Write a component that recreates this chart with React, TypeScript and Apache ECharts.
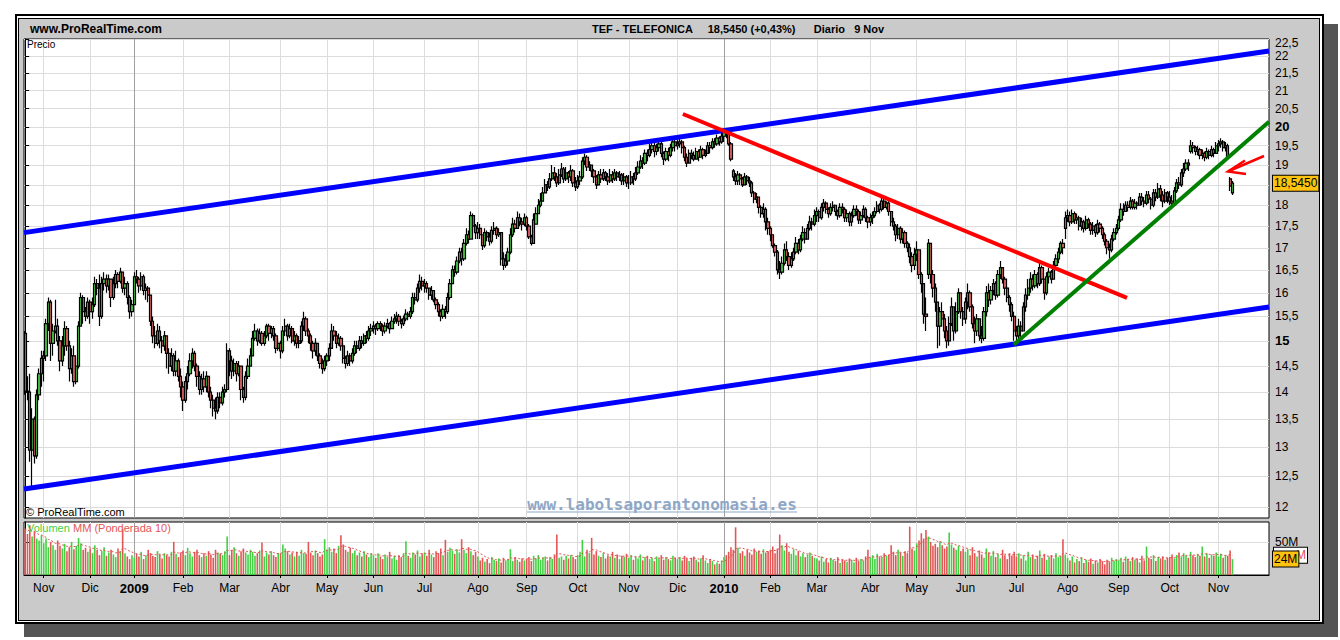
import React, { useEffect, useRef } from "react";
import * as echarts from "echarts";

// ---------- categories / ticks ----------
const monthLabels = ["Nov","Dic","2009","Feb","Mar","Abr","May","Jun","Jul","Ago","Sep","Oct","Nov","Dic","2010","Feb","Mar","Abr","May","Jun","Jul","Ago","Sep","Oct","Nov"];
// trading sessions per month: first = 22-31 Oct 2008, last = 1-9 Nov 2010
const monthSessions = [8,20,19,21,20,22,20,20,22,23,21,22,22,21,20,20,20,23,20,21,22,22,22,22,21,7];
const priceTicks = [12,12.5,13,13.5,14,14.5,15,15.5,16,16.5,17,17.5,18,18.5,19,19.5,20,20.5,21,21.5,22,22.5];
const hiddenPriceLabels = [18.5]; // covered by the last-price box
const topLabelAnchor = 22.39; // the 22,5 label sits just below the top edge, as in the original
const volumeTicks = [50];
const priceRange = [11.82, 22.51];
const volumeRange = [0, 80];
const totalSlots = 536.25;
const lastPrice = 18.545;

// ---------- daily prices (close / high / low) and volumes (M) ----------
const firstOpen = 15.15;
const gapOpens = [[220,17.55],[305,18.85],[389,16.4],[448,17.45],[502,19.35],[519,18.65],[520,18.3]];

const cOct08 = [14.02,14.0,12.95,13.5,12.85,13.95,14.35,14.65];
const hOct08 = [15.2,14.3,14.35,13.7,13.55,14.05,14.45,14.8];
const lOct08 = [13.95,13.85,12.75,12.28,12.72,12.8,13.85,14.1];
const vOct08 = [70,62,75,58,66,55,52,60];

const cNov08 = [14.7,15.35,15.8,14.95,15.2,15.3,15.0,14.6,14.9,15.25,14.9,14.45,14.7,14.2,14.5,15.3,15.9,15.6,15.5,15.8];
const hNov08 = [14.8,15.45,15.9,15.85,15.35,15.85,15.45,15.1,15.1,15.4,15.3,15.0,14.85,14.9,14.65,15.4,16.0,15.95,15.7,15.9];
const lNov08 = [14.2,14.6,15.2,14.6,14.7,15.15,14.9,14.4,14.5,14.7,14.8,14.2,14.35,14.1,14.15,14.45,15.3,15.35,15.4,15.45];
const vNov08 = [48,55,42,50,45,38,52,44,40,47,36,42,50,39,44,56,48,38,41,35];

const cDec08 = [15.6,15.75,16.2,16.1,15.5,16.2,16.3,16.15,16.3,15.9,16.2,16.4,16.25,16.45,16.1,16.2,15.9,15.6,15.75];
const hDec08 = [15.85,15.9,16.35,16.3,16.4,16.35,16.45,16.4,16.4,16.3,16.35,16.5,16.45,16.55,16.45,16.35,16.25,15.95,15.85];
const lDec08 = [15.35,15.45,15.7,15.95,15.3,15.45,16.05,16.0,16.05,15.7,15.85,16.1,16.1,16.2,16.0,15.95,15.75,15.45,15.5];
const vDec08 = [40,33,45,38,30,36,42,29,34,38,31,27,40,36,69,33,28,24,30];

const cJan09 = [16.35,16.3,16.15,16.35,16.05,16.1,15.95,15.4,15.1,14.95,15.2,15.0,14.9,15.1,14.75,14.5,14.7,14.4,14.6,14.3,14.1];
const hJan09 = [16.45,16.5,16.35,16.45,16.4,16.2,16.15,15.9,15.5,15.3,15.35,15.3,15.1,15.2,15.1,14.85,14.85,14.75,14.8,14.65,14.45];
const lJan09 = [16.15,16.2,16.0,16.05,15.95,15.85,15.8,15.3,14.95,14.85,14.9,14.85,14.75,14.8,14.45,14.35,14.4,14.3,14.3,14.2,13.9];
const vJan09 = [26,32,28,35,24,30,38,33,29,27,36,31,25,33,30,28,35,50,32,27,34];

const cFeb09 = [13.85,14.2,14.35,14.6,14.75,14.5,14.3,14.05,14.25,14.1,14.3,14.0,13.85,13.7,13.65,13.9,13.8,14.0,14.05,14.8];
const hFeb09 = [14.2,14.3,14.5,14.75,14.85,14.8,14.55,14.4,14.35,14.4,14.4,14.3,14.1,13.95,13.9,14.0,14.0,14.1,14.15,14.95];
const lFeb09 = [13.65,13.8,14.05,14.3,14.45,14.4,14.1,13.95,13.95,14.0,14.0,13.9,13.7,13.55,13.5,13.6,13.7,13.75,13.9,14.0];
const vFeb09 = [37,30,41,33,28,35,38,30,27,33,29,36,31,26,38,34,32,30,36,58];

const cMar09 = [14.6,14.4,14.55,14.35,14.5,14.05,13.9,14.3,14.5,14.7,15.05,15.2,15.0,15.15,14.95,15.1,15.3,15.15,15.25,15.1,14.85,14.95];
const hMar09 = [14.85,14.7,14.65,14.6,14.6,14.45,14.1,14.4,14.65,14.85,15.2,15.35,15.25,15.25,15.2,15.2,15.35,15.35,15.3,15.3,15.15,15.05];
const lMar09 = [14.3,14.25,14.3,14.2,14.3,13.85,13.8,13.85,14.25,14.5,14.7,15.0,14.9,14.95,14.9,14.9,15.05,15.0,15.05,15.0,14.75,14.8];
const vMar09 = [30,38,42,33,29,36,40,34,31,38,35,29,33,37,49,28,34,31,36,30,27,33];

const cApr09 = [14.8,15.2,15.3,15.1,15.25,15.0,15.1,14.95,15.0,15.3,15.45,15.2,15.1,14.95,14.8,14.95,14.7,14.55,14.45,14.6];
const hApr09 = [15.0,15.3,15.45,15.35,15.35,15.3,15.2,15.15,15.1,15.4,15.6,15.5,15.25,15.15,15.0,15.05,14.95,14.75,14.65,14.7];
const lApr09 = [14.65,14.75,15.1,15.0,15.05,14.95,14.9,14.85,14.85,14.95,15.2,15.1,14.95,14.8,14.65,14.7,14.6,14.45,14.35,14.4];
const vApr09 = [33,46,40,36,31,34,28,35,29,38,33,32,50,34,30,37,33,28,31,54];

const cMay09 = [14.7,14.85,15.2,15.1,14.95,15.05,14.9,14.65,14.55,14.7,14.6,14.75,14.9,14.85,15.0,14.95,15.1,15.05,15.2,15.25];
const hMay09 = [14.75,14.95,15.35,15.3,15.2,15.15,15.1,14.95,14.7,14.8,14.75,14.85,15.0,15.0,15.1,15.1,15.15,15.2,15.3,15.35];
const lMay09 = [14.5,14.6,14.85,15.0,14.85,14.9,14.8,14.55,14.45,14.5,14.5,14.55,14.7,14.75,14.8,14.85,14.9,14.95,15.0,15.1];
const vMay09 = [38,42,35,40,33,44,60,46,38,35,41,33,37,30,34,28,36,31,27,33];

const cJun09 = [15.3,15.25,15.35,15.3,15.2,15.3,15.35,15.25,15.4,15.45,15.5,15.4,15.35,15.45,15.55,15.5,15.6,15.9,15.85,16.1,16.25,16.15];
const hJun09 = [15.4,15.35,15.4,15.4,15.35,15.38,15.45,15.38,15.5,15.55,15.6,15.55,15.45,15.52,15.65,15.6,15.7,16.0,16.0,16.2,16.4,16.35];
const lJun09 = [15.15,15.12,15.2,15.2,15.1,15.15,15.25,15.15,15.25,15.35,15.35,15.3,15.25,15.3,15.4,15.42,15.45,15.55,15.75,15.8,16.0,16.05];
const vJun09 = [30,26,33,28,24,31,27,35,25,29,23,30,27,33,51,29,26,34,31,37,28,32];

const cJul09 = [16.2,16.1,15.95,16.05,15.85,15.75,15.6,15.5,15.65,15.6,15.9,16.2,16.5,16.45,16.7,16.9,16.75,17.1,17.3,17.2,17.75,17.5,17.35];
const hJul09 = [16.3,16.25,16.1,16.15,16.05,15.9,15.8,15.65,15.75,15.72,16.0,16.3,16.6,16.6,16.8,17.0,17.0,17.2,17.45,17.4,17.85,17.8,17.55];
const lJul09 = [16.0,16.0,15.85,15.85,15.8,15.65,15.5,15.4,15.45,15.45,15.55,15.85,16.2,16.35,16.4,16.65,16.6,16.7,17.05,17.1,17.2,17.4,17.2];
const vJul09 = [34,29,38,31,27,36,33,40,30,53,35,41,37,32,39,34,54,38,33,42,36,30,35];

const cAug09 = [17.45,17.3,17.05,17.35,17.25,17.15,17.4,17.45,17.3,17.35,16.75,16.6,16.7,16.9,17.3,17.55,17.45,17.7,17.6,17.55,17.7];
const hAug09 = [17.6,17.55,17.3,17.45,17.4,17.35,17.5,17.6,17.5,17.45,17.35,16.9,16.85,17.0,17.45,17.7,17.65,17.85,17.8,17.7,17.8];
const lAug09 = [17.2,17.2,16.95,17.0,17.15,17.05,17.1,17.3,17.2,17.25,16.6,16.5,16.55,16.6,16.85,17.25,17.35,17.45,17.5,17.4,17.5];
const vAug09 = [28,22,26,20,24,18,27,23,21,25,19,26,22,24,39,21,27,23,20,25,22];

const cSep09 = [17.5,17.25,17.1,17.65,17.8,18.0,18.1,18.3,18.5,18.45,18.65,18.8,18.7,18.55,18.75,18.9,18.65,18.8,18.7,18.85,18.55,18.45];
const hSep09 = [17.75,17.55,17.3,17.8,17.95,18.15,18.3,18.45,18.65,18.6,18.8,19.0,18.95,18.8,18.9,19.05,18.95,18.95,18.85,19.0,18.9,18.7];
const lSep09 = [17.4,17.2,17.05,17.55,17.6,17.8,17.95,18.1,18.3,18.35,18.4,18.6,18.6,18.45,18.5,18.7,18.55,18.6,18.55,18.6,18.45,18.35];
const vSep09 = [24,27,21,29,25,30,23,26,28,22,27,24,31,61,26,28,23,29,25,30,27,24];

const cOct09 = [18.6,18.7,19.1,19.2,18.95,19.0,18.85,18.7,18.5,18.75,18.65,18.8,18.7,18.6,18.75,18.65,18.8,18.7,18.75,18.6,18.7,18.55];
const hOct09 = [18.75,18.85,19.2,19.3,19.25,19.1,19.0,18.9,18.75,18.85,18.9,18.9,18.85,18.8,18.9,18.85,18.9,18.85,18.85,18.8,18.8,18.75];
const lOct09 = [18.4,18.5,18.65,19.0,18.85,18.85,18.7,18.55,18.4,18.5,18.55,18.6,18.6,18.5,18.55,18.55,18.6,18.6,18.6,18.5,18.5,18.45];
const vOct09 = [30,35,53,28,38,33,56,31,36,29,27,33,25,30,28,35,26,31,24,29,27,32];

const cNov09 = [18.55,18.7,18.65,18.8,18.95,19.1,19.05,19.3,19.25,19.4,19.5,19.35,19.45,19.55,19.3,19.15,19.35,19.25,19.45,19.6,19.5];
const hNov09 = [18.75,18.85,18.8,18.95,19.1,19.25,19.2,19.4,19.4,19.55,19.65,19.6,19.55,19.65,19.6,19.35,19.45,19.45,19.55,19.7,19.7];
const lNov09 = [18.4,18.5,18.5,18.6,18.75,18.9,18.9,19.0,19.1,19.2,19.3,19.2,19.25,19.35,19.2,19.0,19.1,19.1,19.2,19.35,19.35];
const vNov09 = [26,30,23,28,25,31,22,27,29,24,26,21,28,25,30,23,27,24,22,29,26];

const cDec09 = [19.55,19.6,19.45,19.2,19.05,19.3,19.25,19.15,19.35,19.2,19.4,19.25,19.3,19.5,19.45,19.6,19.55,19.7,19.6,19.75];
const hDec09 = [19.7,19.7,19.65,19.5,19.3,19.4,19.4,19.35,19.45,19.4,19.5,19.45,19.4,19.6,19.6,19.7,19.7,19.8,19.75,19.85];
const lDec09 = [19.4,19.45,19.3,19.1,18.95,19.05,19.15,19.1,19.15,19.1,19.2,19.15,19.2,19.3,19.3,19.4,19.45,19.5,19.5,19.55];
const vDec09 = [24,27,22,29,25,21,26,28,23,20,25,30,22,18,24,21,16,19,17,22];

const cJan10 = [19.85,19.8,19.55,19.15,18.7,18.6,18.75,18.65,18.5,18.7,18.6,18.55,18.3,18.15,18.2,17.95,17.8,17.9,17.6,17.45];
const hJan10 = [19.9,19.95,19.85,19.6,18.9,18.8,18.85,18.8,18.7,18.8,18.75,18.7,18.6,18.35,18.3,18.2,18.0,18.05,17.95,17.7];
const lJan10 = [19.6,19.7,19.5,19.1,18.6,18.5,18.5,18.5,18.45,18.5,18.5,18.45,18.2,18.05,18.05,17.8,17.7,17.7,17.4,17.3];
const vJan10 = [27,30,35,42,38,72,41,33,36,29,38,34,31,40,35,37,32,39,34,36];

const cFeb10 = [17.3,17.05,16.9,16.5,16.45,16.65,16.95,16.8,16.6,16.75,16.9,17.1,16.95,17.2,17.35,17.2,17.45,17.6,17.55,17.75];
const hFeb10 = [17.5,17.3,17.1,16.95,16.7,16.8,17.1,17.15,16.9,16.9,17.0,17.25,17.2,17.3,17.5,17.45,17.55,17.75,17.7,17.9];
const lFeb10 = [17.15,17.0,16.8,16.4,16.3,16.4,16.6,16.7,16.5,16.55,16.7,16.85,16.85,16.9,17.15,17.1,17.2,17.4,17.4,17.5];
const vFeb10 = [38,43,33,40,61,45,37,48,35,32,39,30,36,28,33,27,31,34,29,26];

const cMar10 = [17.85,17.7,17.95,18.05,17.9,17.8,17.95,18.0,17.85,17.75,17.95,17.9,17.7,17.8,17.6,17.75,17.9,17.85,17.65,17.75,17.9,17.7,17.6];
const hMar10 = [17.95,17.9,18.05,18.15,18.1,17.95,18.05,18.1,18.0,17.9,18.05,18.05,17.95,17.9,17.85,17.85,18.0,18.0,17.9,17.85,18.0,17.95,17.75];
const lMar10 = [17.6,17.6,17.65,17.85,17.8,17.7,17.75,17.85,17.75,17.65,17.7,17.8,17.6,17.6,17.5,17.5,17.7,17.75,17.55,17.55,17.7,17.6,17.45];
const vMar10 = [25,22,28,20,24,19,26,23,21,27,18,24,22,20,25,23,19,26,21,24,22,28,38];

const cApr10 = [17.7,17.75,17.85,18.0,17.9,18.1,17.95,18.05,17.85,17.6,17.5,17.3,17.45,17.2,17.35,17.1,17.0,16.8,16.6,16.85];
const hApr10 = [17.8,17.85,17.95,18.1,18.05,18.2,18.2,18.1,18.1,17.85,17.7,17.55,17.55,17.5,17.45,17.4,17.15,17.1,16.9,17.0];
const lApr10 = [17.5,17.55,17.7,17.8,17.8,17.85,17.9,17.9,17.75,17.5,17.4,17.15,17.2,17.1,17.1,17.0,16.9,16.65,16.45,16.5];
const vApr10 = [26,30,24,32,28,27,33,29,31,45,35,30,38,34,29,36,33,73,40,37];

const cMay10 = [16.95,16.4,16.2,15.55,15.5,17.1,16.4,16.1,15.8,15.3,15.6,15.45,15.2,15.0,15.35,15.7,15.2,15.6,16.0,15.6,15.45];
const hMay10 = [17.15,16.9,16.45,16.2,15.9,17.2,16.9,16.5,16.2,15.75,15.7,15.8,15.55,15.3,15.5,15.9,15.6,15.8,16.1,16.0,15.7];
const lMay10 = [16.7,16.3,16.0,15.35,15.2,16.3,16.2,15.9,15.6,14.85,14.9,15.3,15.05,14.85,14.9,15.3,15.0,15.15,15.55,15.45,15.3];
const vMay10 = [48,52,63,55,68,58,50,44,47,42,51,45,40,43,64,46,41,38,44,36,40];

const cJun10 = [15.8,16.0,15.7,15.35,15.2,15.45,15.1,15.05,15.6,16.0,15.85,16.05,16.2,15.95,16.4,16.55,16.3,16.1,15.9,15.75,15.5,15.2];
const hJun10 = [15.9,16.2,16.05,15.75,15.5,15.55,15.45,15.3,15.7,16.15,16.2,16.15,16.3,16.25,16.5,16.7,16.55,16.35,16.15,15.95,15.8,15.6];
const lJun10 = [15.35,15.65,15.6,15.25,14.95,15.1,15.0,14.95,15.0,15.5,15.7,15.75,15.95,15.85,15.9,16.3,16.2,15.95,15.8,15.6,15.4,15.0];
const vJun10 = [35,39,30,42,33,28,37,31,26,40,34,29,36,27,32,25,38,30,24,33,29,35];

const cJul10 = [15.1,15.3,15.2,15.7,15.95,16.1,16.3,16.15,16.4,16.2,16.55,16.3,16.0,16.35,16.45,16.3,16.6,16.75,16.9,17.1,17.0,17.7];
const hJul10 = [15.3,15.45,15.4,15.8,16.1,16.3,16.45,16.4,16.5,16.45,16.65,16.6,16.3,16.45,16.55,16.5,16.7,16.85,17.0,17.15,17.2,17.85];
const lJul10 = [14.95,15.0,15.05,15.2,15.6,15.85,16.0,16.05,16.1,16.1,16.15,16.2,15.85,15.95,16.2,16.2,16.3,16.55,16.65,16.85,16.85,17.2];
const vJul10 = [28,33,25,30,22,35,27,31,24,29,37,26,32,23,28,30,25,33,27,29,54,31];

const cAug10 = [17.75,17.6,17.8,17.65,17.7,17.5,17.6,17.45,17.65,17.55,17.4,17.5,17.35,17.55,17.45,17.3,17.15,17.0,16.95,17.2,17.35,17.45];
const hAug10 = [17.9,17.85,17.9,17.85,17.8,17.75,17.7,17.65,17.75,17.7,17.6,17.6,17.55,17.65,17.6,17.5,17.35,17.2,17.1,17.3,17.45,17.55];
const lAug10 = [17.6,17.5,17.55,17.55,17.55,17.4,17.4,17.35,17.4,17.45,17.3,17.3,17.25,17.3,17.35,17.2,17.05,16.85,16.75,16.9,17.15,17.3];
const vAug10 = [26,22,28,19,24,21,27,18,23,20,25,17,22,19,24,21,16,23,20,26,22,24];

const cSep10 = [17.65,17.9,17.85,18.0,17.95,18.1,17.95,18.05,18.0,18.2,18.1,18.05,18.25,18.15,18.0,18.3,18.2,18.4,18.25,18.1,18.3,18.2];
const hSep10 = [17.75,18.05,18.05,18.1,18.1,18.2,18.15,18.15,18.1,18.3,18.3,18.2,18.35,18.35,18.2,18.4,18.4,18.55,18.5,18.35,18.4,18.35];
const lSep10 = [17.4,17.6,17.75,17.85,17.85,17.9,17.9,17.9,17.9,18.0,18.0,17.95,18.0,18.05,17.9,17.95,18.1,18.15,18.1,17.95,18.05,18.05];
const vSep10 = [22,26,20,28,24,21,27,23,25,19,29,22,43,26,24,30,21,27,25,28,23,26];

const cOct10 = [18.1,18.05,18.35,18.55,18.5,18.8,18.9,19.05,19.0,19.5,19.45,19.35,19.4,19.25,19.3,19.2,19.35,19.25,19.4,19.3,19.5];
const hOct10 = [18.35,18.25,18.45,18.65,18.7,18.9,19.05,19.15,19.15,19.65,19.6,19.5,19.5,19.45,19.4,19.35,19.45,19.4,19.5,19.45,19.6];
const lOct10 = [18.0,17.95,18.1,18.3,18.4,18.45,18.7,18.85,18.85,19.3,19.3,19.25,19.25,19.15,19.15,19.1,19.15,19.15,19.2,19.2,19.3];
const vOct10 = [27,31,25,30,34,28,33,29,26,35,30,27,32,29,43,28,33,26,31,29,34];

const cNov10 = [19.55,19.6,19.45,19.5,19.2,18.47,18.545];
const hNov10 = [19.65,19.7,19.65,19.6,19.55,18.7,18.6];
const lNov10 = [19.35,19.45,19.35,19.35,19.15,18.35,18.25];
const vNov10 = [28,32,26,30,29,37,24];

// ---------- trend lines: [session index, price] ----------
const upperChannel = [[-0.5, 17.35], [535.75, 22.15]];
const lowerChannel = [[-0.5, 12.29], [535.75, 15.7]];
const redTrend = [[283.3, 20.35], [474.6, 15.89]];
const greenTrend = [[425.8, 14.92], [535.75, 20.14]];

// ---------- assembly ----------
const closes: number[] = [cOct08,cNov08,cDec08,cJan09,cFeb09,cMar09,cApr09,cMay09,cJun09,cJul09,cAug09,cSep09,cOct09,cNov09,cDec09,cJan10,cFeb10,cMar10,cApr10,cMay10,cJun10,cJul10,cAug10,cSep10,cOct10,cNov10].flat();
const highs: number[] = [hOct08,hNov08,hDec08,hJan09,hFeb09,hMar09,hApr09,hMay09,hJun09,hJul09,hAug09,hSep09,hOct09,hNov09,hDec09,hJan10,hFeb10,hMar10,hApr10,hMay10,hJun10,hJul10,hAug10,hSep10,hOct10,hNov10].flat();
const lows: number[] = [lOct08,lNov08,lDec08,lJan09,lFeb09,lMar09,lApr09,lMay09,lJun09,lJul09,lAug09,lSep09,lOct09,lNov09,lDec09,lJan10,lFeb10,lMar10,lApr10,lMay10,lJun10,lJul10,lAug10,lSep10,lOct10,lNov10].flat();
const volumes: number[] = [vOct08,vNov08,vDec08,vJan09,vFeb09,vMar09,vApr09,vMay09,vJun09,vJul09,vAug09,vSep09,vOct09,vNov09,vDec09,vJan10,vFeb10,vMar10,vApr10,vMay10,vJun10,vJul10,vAug10,vSep10,vOct10,vNov10].flat();

const opens = closes.map((c, i) => (i === 0 ? firstOpen : closes[i - 1]));
gapOpens.forEach(([i, o]) => { opens[i] = o; });

const monthStarts: number[] = [];
{
  let acc = 0;
  for (let m = 0; m < monthSessions.length - 1; m++) { acc += monthSessions[m]; monthStarts.push(acc); }
}

const LN = Math.log;
const FONT = '"Liberation Sans", Arial, Helvetica, sans-serif';
const UP = "#46c846";
const DOWN = "#e06464";
const UP_VOL = "#44d044";
const DOWN_VOL = "#e45656";

const candleData = closes.map((c, i) => {
  const o = opens[i];
  const h = Math.max(highs[i], o, c);
  const l = Math.min(lows[i], o, c);
  return [i, LN(o), LN(c), LN(l), LN(h)];
});
const volData = volumes.map((v, i) => ({ value: [i, v], itemStyle: { color: closes[i] >= opens[i] ? UP_VOL : DOWN_VOL } }));
const wma = volumes.map((_, i) => {
  let s = 0, w = 0;
  for (let k = 0; k < 10 && i - k >= 0; k++) { s += (10 - k) * volumes[i - k]; w += 10 - k; }
  return [i, s / w];
});
const lastMA = wma[wma.length - 1][1];
const lastVol = volumes[volumes.length - 1];

const vGridColors = monthLabels.map((m) => (/^\d/.test(m) ? "#a0a0a0" : "#dcdcdc"));
const fmtNum = (n: number) => String(n).replace(".", ",");
const topTick = priceTicks[priceTicks.length - 1];
const priceLabelValues = priceTicks
  .filter((p) => hiddenPriceLabels.indexOf(p) < 0)
  .map((p) => (p === topTick ? LN(topLabelAnchor) : LN(p)));

const trendSeries = (data: number[][], color: string, width: number) => ({
  type: "line",
  xAxisIndex: 0,
  yAxisIndex: 0,
  data: data.map(([x, p]) => [x, LN(p)]),
  symbol: "none",
  silent: true,
  z: 5,
  lineStyle: { color, width, cap: "butt" },
});

const txt = (x: number, y: number, text: string, font: string, fill: string, align = "left") => ({
  type: "text", z: 10, silent: true, x, y,
  style: { text, fill, font, textAlign: align, align, textVerticalAlign: "middle", verticalAlign: "middle" },
});

const option: any = {
  animation: false,
  backgroundColor: "transparent",
  grid: [
    { left: 24, top: 39, width: 1245, height: 479, show: true, backgroundColor: "#fff", borderColor: "#000", borderWidth: 1, outerBoundsMode: "none" },
    { left: 24, top: 522, width: 1245, height: 53, show: true, backgroundColor: "#fff", borderColor: "#000", borderWidth: 1, outerBoundsMode: "none" },
  ],
  xAxis: [
    {
      type: "value", gridIndex: 0, min: -0.5, max: totalSlots - 0.5,
      axisLine: { show: false },
      axisTick: { show: false, customValues: monthStarts },
      axisLabel: { show: false, customValues: monthStarts },
      splitLine: { show: true, lineStyle: { color: vGridColors, width: 1 } },
    },
    {
      type: "value", gridIndex: 1, min: -0.5, max: totalSlots - 0.5,
      axisLine: { show: true, lineStyle: { color: "#000" } },
      axisTick: { show: true, length: 3, customValues: monthStarts, lineStyle: { color: "#000" } },
      axisLabel: {
        customValues: monthStarts, margin: 7, fontSize: 12, color: "#000", fontFamily: FONT,
        formatter: (v: number) => {
          const k = monthStarts.indexOf(Math.round(v));
          const lab = monthLabels[k] || "";
          return /^\d/.test(lab) ? "{y|" + lab + "}" : lab;
        },
        rich: { y: { fontWeight: "bold", fontSize: 13, color: "#000", fontFamily: FONT } },
      },
      splitLine: { show: true, lineStyle: { color: vGridColors, width: 1 } },
    },
  ],
  yAxis: [
    {
      type: "value", gridIndex: 0, position: "right", min: LN(priceRange[0]), max: LN(priceRange[1]),
      axisLine: { show: true, lineStyle: { color: "#000" } },
      axisTick: { show: true, length: 4, customValues: priceTicks.map(LN), lineStyle: { color: "#000" } },
      axisLabel: {
        customValues: priceLabelValues, margin: 6, fontSize: 12, lineHeight: 10, color: "#000", fontFamily: FONT,
        showMaxLabel: true, showMinLabel: true, hideOverlap: false,
        formatter: (v: number) => {
          const p = Math.round(Math.exp(v) * 2) / 2;
          const s = fmtNum(p);
          if (p === 20 || p === 15) return "{b|" + s + "}";
          return s;
        },
        rich: {
          b: { fontWeight: "bold", fontSize: 13, lineHeight: 10, color: "#000", fontFamily: FONT },
        },
      },
      splitLine: { show: true, lineStyle: { color: "#dcdcdc", width: 1 } },
    },
    {
      type: "value", gridIndex: 1, position: "right", min: volumeRange[0], max: volumeRange[1],
      axisLine: { show: true, lineStyle: { color: "#000" } },
      axisTick: { show: true, length: 4, customValues: volumeTicks, lineStyle: { color: "#000" } },
      axisLabel: { customValues: volumeTicks, margin: 6, fontSize: 12, color: "#000", fontFamily: FONT, formatter: (v: number) => v + "M" },
      splitLine: { show: true, lineStyle: { color: "#dcdcdc", width: 1 } },
    },
  ],
  series: [
    {
      type: "candlestick", xAxisIndex: 0, yAxisIndex: 0, data: candleData,
      encode: { x: 0, y: [1, 2, 3, 4] },
      barWidth: 2.7, z: 2,
      itemStyle: { color: UP, color0: DOWN, borderColor: "#000", borderColor0: "#000", borderWidth: 1.2 },
      markLine: {
        silent: true, symbol: ["none", "none"],
        lineStyle: { color: "rgba(0,0,0,0)", width: 0 },
        label: {
          show: true, position: "end", distance: 4, formatter: lastPrice.toFixed(4).replace(".", ","),
          color: "#000", fontSize: 12, fontFamily: FONT, backgroundColor: "#ffc20e",
          borderColor: "#000", borderWidth: 1, padding: [2, 1, 1, 1],
        },
        data: [{ yAxis: LN(lastPrice) }],
      },
    },
    trendSeries(upperChannel, "#0000ff", 5),
    trendSeries(lowerChannel, "#0000ff", 5),
    trendSeries(redTrend, "#ff0000", 4),
    trendSeries(greenTrend, "#008000", 4),
    {
      type: "bar", xAxisIndex: 1, yAxisIndex: 1, data: volData, barWidth: 1.6, z: 2,
      markLine: {
        silent: true, symbol: ["none", "none"],
        lineStyle: { color: "rgba(0,0,0,0)", width: 0 },
        data: [
          { yAxis: lastMA, label: { show: true, position: "end", distance: 5, formatter: "M", color: "#e05050", fontSize: 12, fontFamily: FONT, backgroundColor: "#fff", borderColor: "#000", borderWidth: 1, padding: [2, 1, 1, 22] } },
          { yAxis: lastVol, label: { show: true, position: "end", distance: 4, formatter: lastVol + "M", color: "#000", fontSize: 12, fontFamily: FONT, backgroundColor: "#ffc20e", borderColor: "#000", borderWidth: 1, padding: [2, 1, 1, 1] } },
        ],
      },
    },
    {
      type: "line", xAxisIndex: 1, yAxisIndex: 1, data: wma, symbol: "none", silent: true, z: 3,
      lineStyle: { color: "#e05050", width: 1, type: [2, 2] },
    },
  ],
  graphic: [
    { type: "rect", z: -5, silent: true, shape: { x: 24, y: 24, width: 1314, height: 613 }, style: { fill: "#555" } },
    { type: "rect", z: -5, silent: true, shape: { x: 15, y: 14, width: 1309, height: 610 }, style: { fill: "#000" } },
    { type: "rect", z: -5, silent: true, shape: { x: 17, y: 16, width: 1305, height: 606 }, style: { fill: "#fff" } },
    { type: "rect", z: -5, silent: true, shape: { x: 18, y: 18, width: 1302, height: 603 }, style: { fill: "#000" } },
    { type: "rect", z: -5, silent: true, shape: { x: 19, y: 19, width: 1300, height: 601 }, style: { fill: "#cacaca" } },
    txt(30, 29, "www.ProRealTime.com", 'bold 12px "Liberation Sans", Arial', "#000"),
    txt(592, 29, "TEF - TELEFONICA     18,5450 (+0,43%)      Diario   9 Nov", 'bold 11px "Liberation Sans", Arial', "#000"),
    txt(27, 44, "Precio", '10px "Liberation Sans", Arial', "#000"),
    txt(26, 512, "© ProRealTime.com", '11px "Liberation Sans", Arial', "#000"),
    txt(27, 528, "Volumen", '11px "Liberation Sans", Arial', UP_VOL),
    txt(73, 528, "MM (Ponderada 10)", '11px "Liberation Sans", Arial', DOWN_VOL),
    txt(662, 504, "www.labolsaporantonomasia.es", 'bold 16px "DejaVu Sans Mono", monospace', "#8ea7c7", "center"),
    { type: "line", z: 10, silent: true, shape: { x1: 527, y1: 512, x2: 797, y2: 512 }, style: { stroke: "#8ea7c7", lineWidth: 1.2 } },
    { type: "polyline", z: 10, silent: true, shape: { points: [[1264, 156], [1229, 171]] }, style: { stroke: "#ff0000", lineWidth: 2.5, fill: "none" } },
    { type: "polyline", z: 10, silent: true, shape: { points: [[1245, 160.5], [1228, 171.5], [1246, 174]] }, style: { stroke: "#ff0000", lineWidth: 2.5, fill: "none" } },
  ],
};

export default function App() {
  const ref = useRef<HTMLDivElement>(null);
  useEffect(() => {
    if (!ref.current) return;
    const chart = echarts.init(ref.current, undefined, { renderer: "svg" });
    chart.setOption(option);
    return () => chart.dispose();
  }, []);
  return (
    <div
      ref={ref}
      style={{ position: "absolute", left: 0, top: 0, width: 1340, height: 640, background: "#fff" }}
    />
  );
}
